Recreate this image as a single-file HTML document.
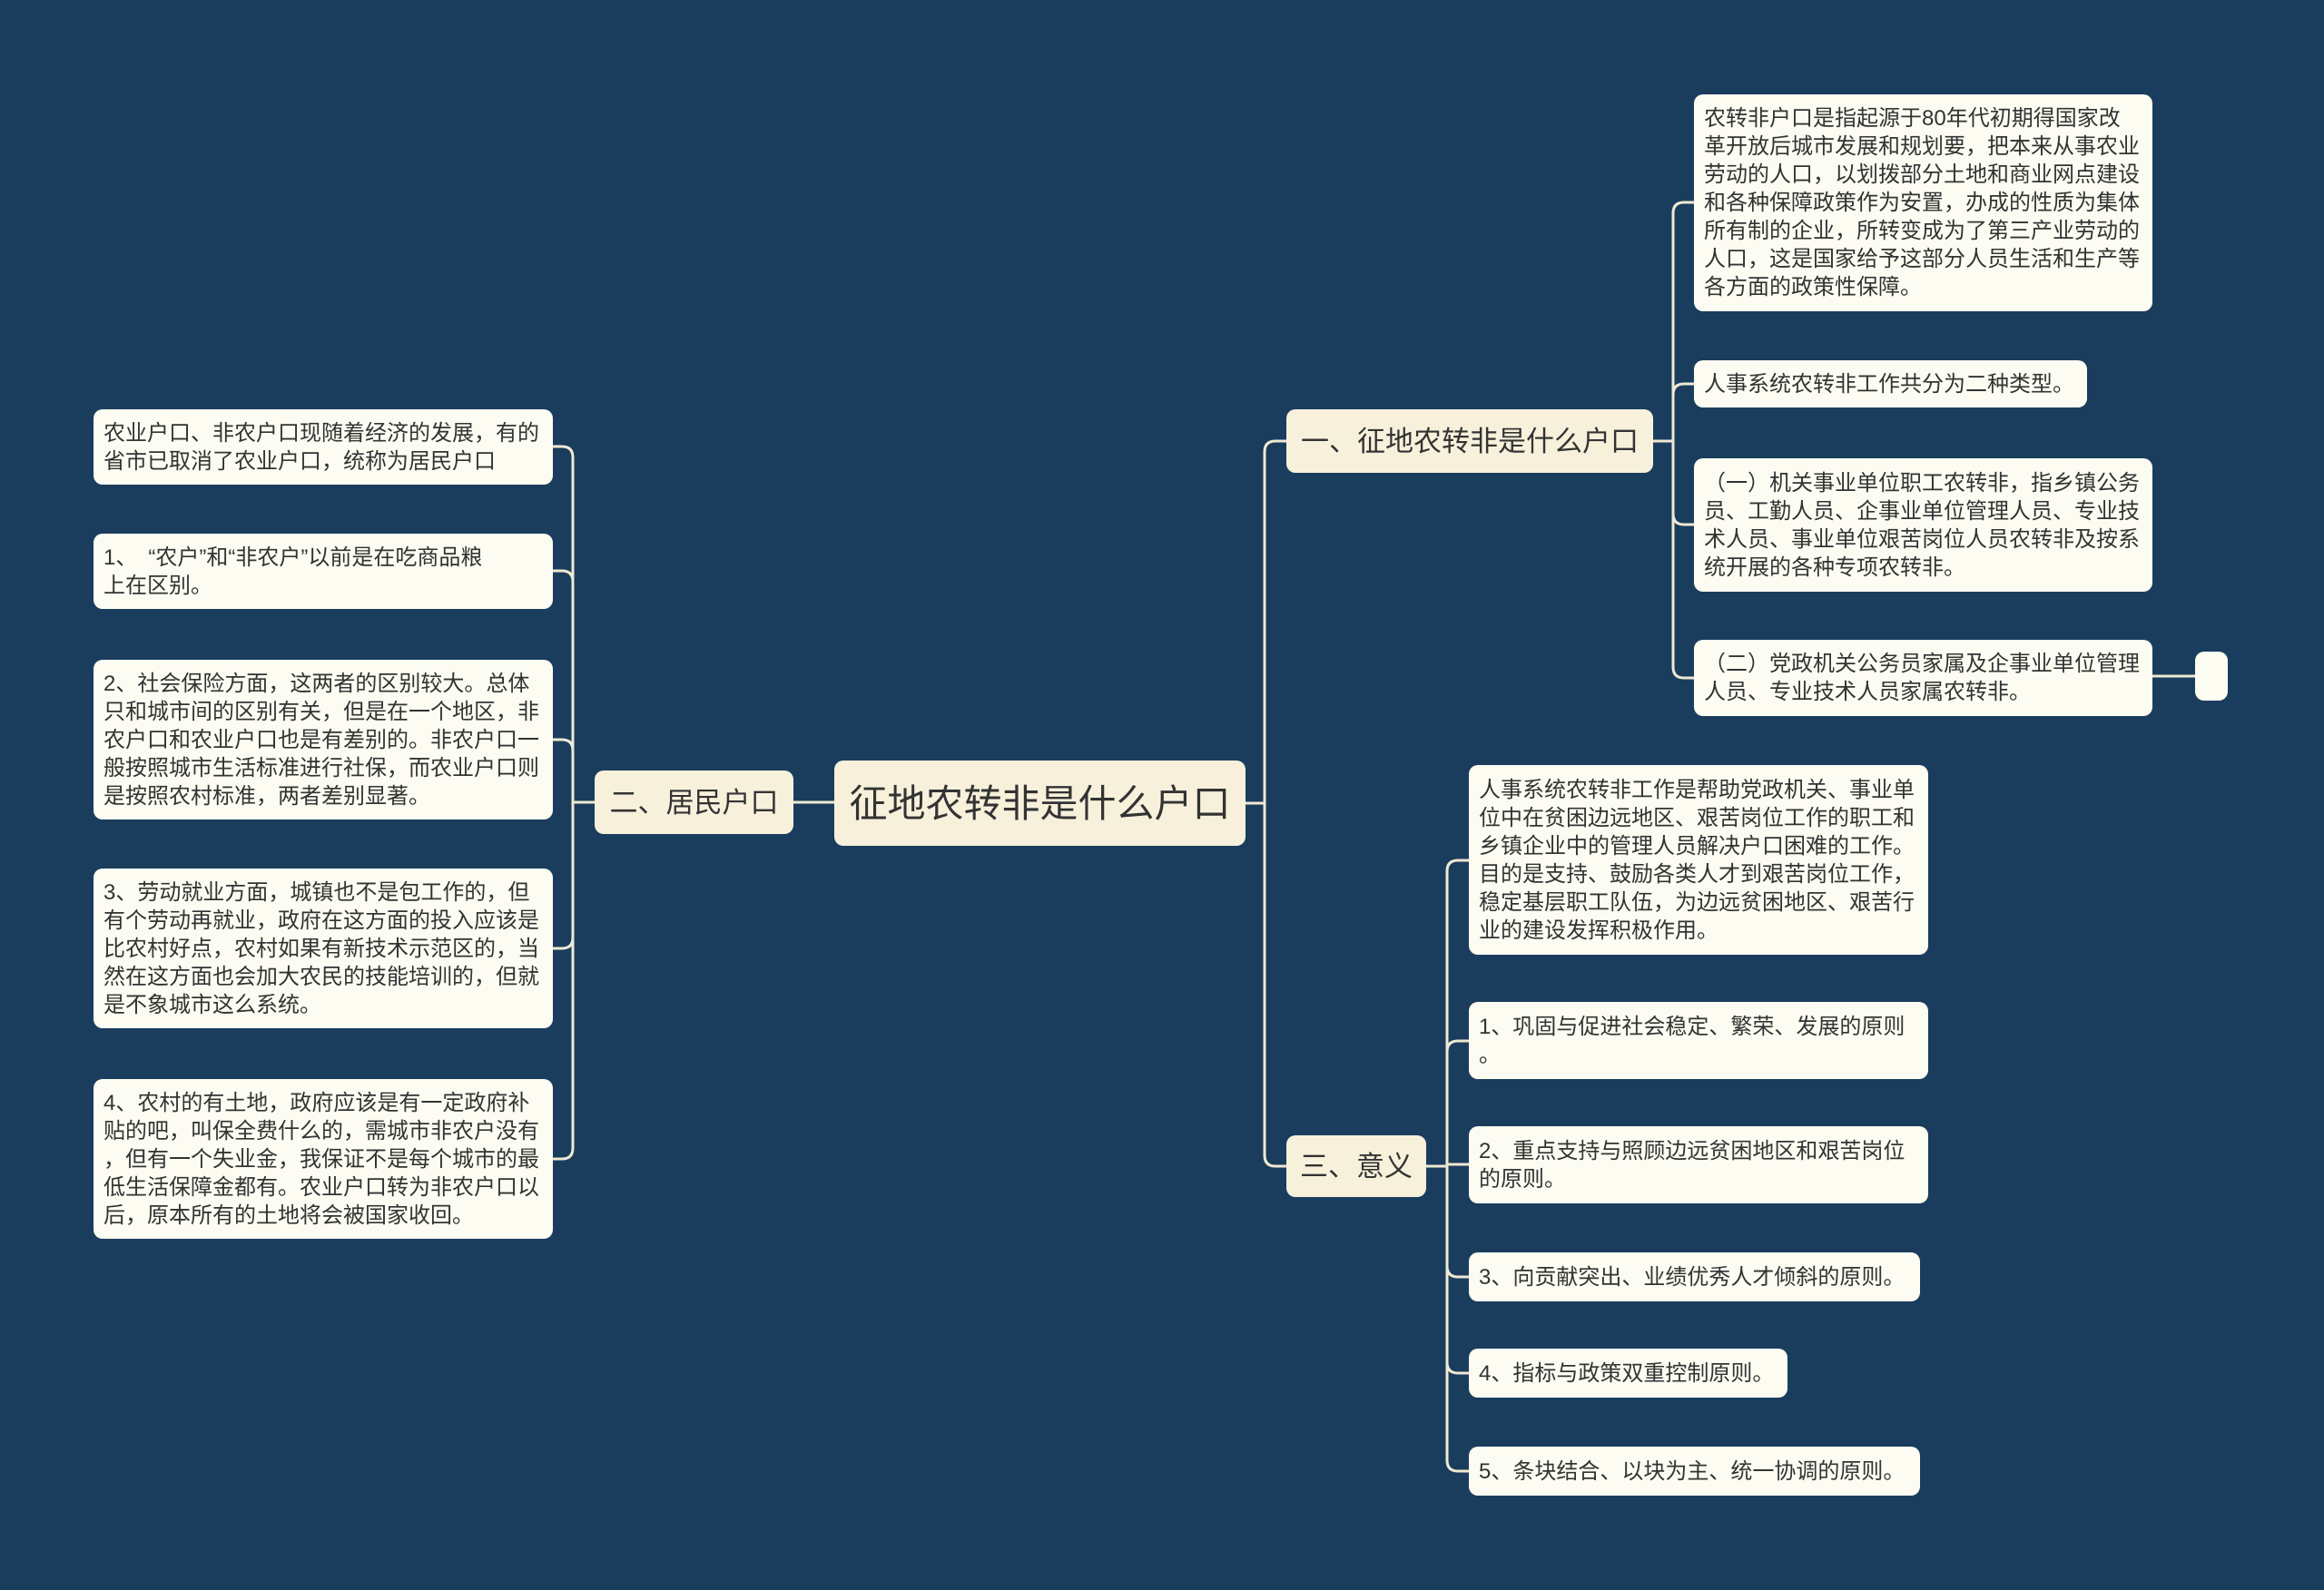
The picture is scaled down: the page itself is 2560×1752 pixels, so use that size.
<!DOCTYPE html>
<html><head><meta charset="utf-8"><style>
html,body{margin:0;padding:0}
body{width:2560px;height:1752px;background:#1b3d5d;position:relative;overflow:hidden;font-family:"Liberation Sans","Noto Sans CJK SC",sans-serif}
.n{position:absolute;box-sizing:border-box;background:#fdfcf2;border-radius:10px;color:#333;font-size:24px;line-height:31px;padding:6px 14px 6px 11px;display:flex;align-items:center}
.b{background:#f7f1dc;font-size:31px;justify-content:center;color:#333;padding:6px 11px}
svg{position:absolute;left:0;top:0}
</style></head><body>
<svg width="2560" height="1752" fill="none" stroke="#efe9d2" stroke-width="3">
<path d="M1372 885 H1393"/>
<path d="M1393 885 V498 Q1393 486 1405 486 H1417"/>
<path d="M1393 885 V1273 Q1393 1285 1405 1285 H1417"/>
<path d="M919 884 H874"/>
<path d="M655 884 H631"/>
<path d="M631 884 V504 Q631 492 619 492 H609"/>
<path d="M631 884 V641 Q631 629 619 629 H609"/>
<path d="M631 884 V827 Q631 815 619 815 H609"/>
<path d="M631 884 V1033 Q631 1045 619 1045 H609"/>
<path d="M631 884 V1265 Q631 1277 619 1277 H609"/>
<path d="M1821 486 H1843"/>
<path d="M1843 486 V235 Q1843 223 1855 223 H1866"/>
<path d="M1843 486 V435 Q1843 423 1855 423 H1866"/>
<path d="M1843 486 V566 Q1843 578 1855 578 H1866"/>
<path d="M1843 486 V735 Q1843 747 1855 747 H1866"/>
<path d="M2371 745 H2418"/>
<path d="M1571 1285 H1594"/>
<path d="M1594 1285 V960 Q1594 948 1606 948 H1618"/>
<path d="M1594 1285 V1159 Q1594 1147 1606 1147 H1618"/>
<path d="M1594 1285 V1283 Q1594 1283 1606 1283 H1618"/>
<path d="M1594 1285 V1395 Q1594 1407 1606 1407 H1618"/>
<path d="M1594 1285 V1501 Q1594 1513 1606 1513 H1618"/>
<path d="M1594 1285 V1609 Q1594 1621 1606 1621 H1618"/>
</svg>
<div class="n b" style="left:919px;top:838px;width:453px;height:94px;font-size:42px">征地农转非是什么户口</div>
<div class="n b" style="left:1417px;top:451px;width:404px;height:70px">一、征地农转非是什么户口</div>
<div class="n b" style="left:655px;top:849px;width:219px;height:70px">二、居民户口</div>
<div class="n b" style="left:1417px;top:1251px;width:154px;height:68px">三、意义</div>

<div class="n" style="left:1866px;top:104px;width:505px;height:239px">农转非户口是指起源于80年代初期得国家改革开放后城市发展和规划要，把本来从事农业劳动的人口，以划拨部分土地和商业网点建设和各种保障政策作为安置，办成的性质为集体所有制的企业，所转变成为了第三产业劳动的人口，这是国家给予这部分人员生活和生产等各方面的政策性保障。</div>
<div class="n" style="left:1866px;top:397px;width:433px;height:52px">人事系统农转非工作共分为二种类型。</div>
<div class="n" style="left:1866px;top:505px;width:505px;height:147px">（一）机关事业单位职工农转非，指乡镇公务员、工勤人员、企事业单位管理人员、专业技术人员、事业单位艰苦岗位人员农转非及按系统开展的各种专项农转非。</div>
<div class="n" style="left:1866px;top:705px;width:505px;height:84px">（二）党政机关公务员家属及企事业单位管理人员、专业技术人员家属农转非。</div>
<div class="n" style="left:2418px;top:718px;width:36px;height:54px"></div>

<div class="n" style="left:103px;top:451px;width:506px;height:83px">农业户口、非农户口现随着经济的发展，有的省市已取消了农业户口，统称为居民户口</div>
<div class="n" style="left:103px;top:588px;width:506px;height:83px"><span>1、&ensp;“农户”和“非农户”以前是在吃商品粮<br>上在区别。</span></div>
<div class="n" style="left:103px;top:727px;width:506px;height:176px">2、社会保险方面，这两者的区别较大。总体只和城市间的区别有关，但是在一个地区，非农户口和农业户口也是有差别的。非农户口一般按照城市生活标准进行社保，而农业户口则是按照农村标准，两者差别显著。</div>
<div class="n" style="left:103px;top:957px;width:506px;height:176px">3、劳动就业方面，城镇也不是包工作的，但有个劳动再就业，政府在这方面的投入应该是比农村好点，农村如果有新技术示范区的，当然在这方面也会加大农民的技能培训的，但就是不象城市这么系统。</div>
<div class="n" style="left:103px;top:1189px;width:506px;height:176px;white-space:nowrap"><span>4、农村的有土地，政府应该是有一定政府补<br>贴的吧，叫保全费什么的，需城市非农户没有<br>，但有一个失业金，我保证不是每个城市的最<br>低生活保障金都有。农业户口转为非农户口以<br>后，原本所有的土地将会被国家收回。</span></div>

<div class="n" style="left:1618px;top:843px;width:506px;height:209px">人事系统农转非工作是帮助党政机关、事业单位中在贫困边远地区、艰苦岗位工作的职工和乡镇企业中的管理人员解决户口困难的工作。目的是支持、鼓励各类人才到艰苦岗位工作，稳定基层职工队伍，为边远贫困地区、艰苦行业的建设发挥积极作用。</div>
<div class="n" style="left:1618px;top:1104px;width:506px;height:85px"><span>1、巩固与促进社会稳定、繁荣、发展的原则<br>。</span></div>
<div class="n" style="left:1618px;top:1241px;width:506px;height:85px"><span>2、重点支持与照顾边远贫困地区和艰苦岗位<br>的原则。</span></div>
<div class="n" style="left:1618px;top:1380px;width:497px;height:54px">3、向贡献突出、业绩优秀人才倾斜的原则。</div>
<div class="n" style="left:1618px;top:1486px;width:351px;height:54px">4、指标与政策双重控制原则。</div>
<div class="n" style="left:1618px;top:1594px;width:497px;height:54px">5、条块结合、以块为主、统一协调的原则。</div>
</body></html>
